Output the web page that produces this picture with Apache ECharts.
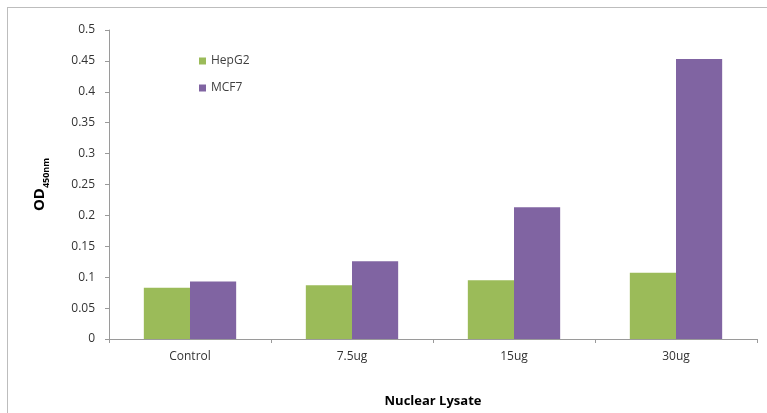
<!DOCTYPE html>
<html><head><meta charset="utf-8">
<script src="https://cdn.jsdelivr.net/npm/echarts@6/dist/echarts.min.js"></script>
<style>
html,body{margin:0;padding:0;background:#fff;overflow:hidden;width:767px;height:413px;}
#frame{position:absolute;left:7px;top:7px;width:760px;height:406px;border-left:1px solid #bdbdbd;border-top:1px solid #bdbdbd;box-sizing:border-box;}
#c{position:absolute;left:0;top:0;width:767px;height:413px;}
</style></head>
<body>
<div id="frame"></div>
<div id="c"></div>
<script>
var categories = ['Control', '7.5ug', '15ug', '30ug'];
var hepg2 = [0.083, 0.087, 0.095, 0.107];
var mcf7 = [0.093, 0.126, 0.213, 0.453];
var yTicks = [0, 0.05, 0.1, 0.15, 0.2, 0.25, 0.3, 0.35, 0.4, 0.45, 0.5];

var chart = echarts.init(document.getElementById('c'));
chart.setOption({
  animation: false,
  textStyle: { fontFamily: 'Open Sans, Noto Sans, sans-serif' },
  legend: {
    orient: 'vertical', left: 194, top: 50, itemWidth: 7, itemHeight: 7, itemGap: 15,
    icon: 'rect',
    textStyle: { fontSize: 12, color: '#404040', fontFamily: 'Open Sans' },
    data: ['HepG2', 'MCF7']
  },
  grid: { left: 109, right: 10, top: 30, bottom: 66 },
  xAxis: {
    type: 'category', data: categories,
    name: 'Nuclear Lysate', nameLocation: 'middle', nameGap: 56,
    nameTextStyle: { fontSize: 13, fontWeight: 'bold', color: '#000', fontFamily: 'Open Sans' },
    axisLine: { lineStyle: { color: '#9a9a9a', width: 1 } },
    axisTick: { show: true, alignWithLabel: false, length: 4, lineStyle: { color: '#9a9a9a' } },
    axisLabel: { fontSize: 12, color: '#333', margin: 12 }
  },
  yAxis: {
    type: 'value', min: 0, max: 0.5, interval: 0.05,
    name: '{m|OD}{s|450nm}', nameLocation: 'middle', nameGap: 62,
    nameTextStyle: {
      rich: {
        m: { fontSize: 15, fontWeight: 'bold', color: '#000', fontFamily: 'Open Sans', lineHeight: 20, verticalAlign: 'bottom' },
        s: { fontSize: 9, fontWeight: 'bold', color: '#000', fontFamily: 'Open Sans', lineHeight: 20, verticalAlign: 'bottom', padding: [0,0,-4,0] }
      }
    },
    axisLine: { show: true, lineStyle: { color: '#9a9a9a', width: 1 } },
    axisTick: { show: true, length: 4, lineStyle: { color: '#9a9a9a' } },
    splitLine: { show: false },
    axisLabel: {
      fontSize: 12, color: '#333', margin: 14,
      formatter: function (v) { var i = yTicks.indexOf(Math.round(v*100)/100); return i >= 0 ? String(yTicks[i]) : String(v); }
    }
  },
  series: [
    { name: 'HepG2', type: 'bar', data: hepg2, itemStyle: { color: '#9BBB59' }, barGap: '0%', barCategoryGap: '43%' },
    { name: 'MCF7', type: 'bar', data: mcf7, itemStyle: { color: '#8064A2' }, barGap: '0%', barCategoryGap: '43%' }
  ]
});
</script>
</body></html>
